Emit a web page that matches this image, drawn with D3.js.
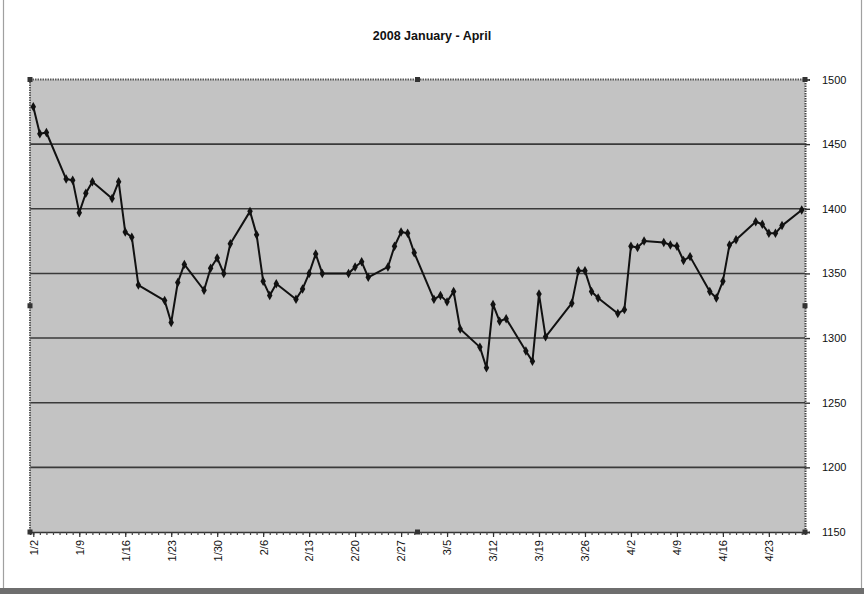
<!DOCTYPE html>
<html>
<head>
<meta charset="utf-8">
<script src="https://cdn.jsdelivr.net/npm/d3@7"></script>
<style>
  html, body { margin: 0; padding: 0; background: #ffffff; }
  svg { display: block; }
  text { font-family: "Liberation Sans", Arial, sans-serif; }
</style>
</head>
<body>
<div id="chart"></div>
<script>
// ---------- data ----------
const dates = [
  "1/2","1/3","1/4","1/7","1/8","1/9","1/10","1/11","1/14","1/15","1/16","1/17","1/18",
  "1/22","1/23","1/24","1/25","1/28","1/29","1/30","1/31","2/1",
  "2/4","2/5","2/6","2/7","2/8","2/11","2/12","2/13","2/14","2/15",
  "2/19","2/20","2/21","2/22","2/25","2/26","2/27","2/28","2/29",
  "3/3","3/4","3/5","3/6","3/7","3/10","3/11","3/12","3/13","3/14",
  "3/17","3/18","3/19","3/20","3/24","3/25","3/26","3/27","3/28",
  "3/31","4/1","4/2","4/3","4/4","4/7","4/8","4/9","4/10","4/11",
  "4/14","4/15","4/16","4/17","4/18","4/21","4/22","4/23","4/24","4/25","4/28"
];
const values = [
  1479,1458,1459,1423,1422,1397,1412,1421,1408,1421,1382,1378,1341,
  1329,1312,1343,1357,1337,1354,1362,1350,1373,
  1398,1380,1344,1333,1342,1330,1338,1350,1365,1350,
  1350,1355,1359,1347,1355,1371,1382,1381,1366,
  1330,1333,1328,1336,1307,1293,1277,1326,1313,1315,
  1290,1282,1334,1301,1327,1352,1352,1336,1331,
  1319,1322,1371,1370,1375,1374,1372,1371,1360,1363,
  1336,1331,1344,1372,1376,1390,1388,1381,1381,1387,1399
];
const xTickLabels = ["1/2","1/9","1/16","1/23","1/30","2/6","2/13","2/20","2/27","3/5","3/12","3/19","3/26","4/2","4/9","4/16","4/23"];
const yTicks = [1150,1200,1250,1300,1350,1400,1450,1500];
const title = "2008 January - April";
const year = 2008;

// ---------- helpers ----------
const parse = s => { const [m, d] = s.split("/").map(Number); return new Date(Date.UTC(year, m - 1, d)); };
const data = dates.map((d, i) => ({ date: parse(d), value: values[i] }));

const W = 864, H = 594;
const plot = { left: 30, right: 805, top: 79.5, bottom: 532 };

const svg = d3.select("#chart").append("svg").attr("width", W).attr("height", H);

// outer frame
svg.append("rect").attr("x", 0).attr("y", 0).attr("width", W).attr("height", H).attr("fill", "#ffffff");
svg.append("line").attr("x1", 3.5).attr("x2", 3.5).attr("y1", 0).attr("y2", 589).attr("stroke", "#a0a0a0").attr("stroke-width", 1.2);
svg.append("line").attr("x1", 861.5).attr("x2", 861.5).attr("y1", 0).attr("y2", 589).attr("stroke", "#a0a0a0").attr("stroke-width", 1.2);
svg.append("rect").attr("x", 0).attr("y", 588).attr("width", W).attr("height", 6).attr("fill", "#6e6e6e");

// scales
const first = data[0].date, last = data[data.length - 1].date;
const half = 12 * 3600 * 1000;
const x = d3.scaleUtc()
  .domain([new Date(first.getTime() - half), new Date(last.getTime() + half)])
  .range([plot.left, plot.right]);
const y = d3.scaleLinear().domain([1150, 1500]).range([plot.bottom, plot.top]);

// plot background
svg.append("rect")
  .attr("x", plot.left).attr("y", plot.top)
  .attr("width", plot.right - plot.left).attr("height", plot.bottom - plot.top)
  .attr("fill", "#c3c3c3");

// gridlines
svg.append("g").selectAll("line")
  .data(yTicks.filter(v => v > 1150 && v < 1500))
  .join("line")
  .attr("x1", plot.left).attr("x2", plot.right)
  .attr("y1", d => y(d)).attr("y2", d => y(d))
  .attr("stroke", "#3a3a3a").attr("stroke-width", 1.6);

// dotted top and left borders
svg.append("line").attr("x1", plot.left).attr("x2", plot.right).attr("y1", plot.top).attr("y2", plot.top)
  .attr("stroke", "#5a5a5a").attr("stroke-width", 2).attr("stroke-dasharray", "1.5,1");
svg.append("line").attr("x1", plot.left).attr("x2", plot.left).attr("y1", plot.top).attr("y2", plot.bottom)
  .attr("stroke", "#5a5a5a").attr("stroke-width", 2).attr("stroke-dasharray", "1.5,1");

// bottom axis (daily minor ticks, weekly labels)
const allDays = d3.utcDay.range(first, d3.utcDay.offset(last, 1));
const xAxisMinor = d3.axisBottom(x).tickValues(allDays).tickSize(3).tickFormat("");
const gxMinor = svg.append("g").attr("transform", `translate(0,${plot.bottom})`).call(xAxisMinor);
gxMinor.select(".domain").attr("stroke", "#333").attr("stroke-width", 1.5);
gxMinor.selectAll(".tick line").attr("stroke", "#444").attr("stroke-width", 1.2);

const xTickDates = xTickLabels.map(parse);
const xAxis = d3.axisBottom(x).tickValues(xTickDates).tickSize(5)
  .tickFormat((d, i) => xTickLabels[i]);
const gx = svg.append("g").attr("transform", `translate(0,${plot.bottom})`).call(xAxis);
gx.select(".domain").remove();
gx.selectAll(".tick line").attr("stroke", "#333").attr("stroke-width", 1.2);
gx.selectAll(".tick text")
  .attr("transform", "rotate(-90)")
  .attr("text-anchor", "end")
  .attr("x", -8).attr("y", 0).attr("dy", "0.35em")
  .attr("font-size", "11px").attr("fill", "#111");

// right axis
const yAxis = d3.axisRight(y).tickValues(yTicks).tickSize(5).tickFormat(d3.format("d"));
const gy = svg.append("g").attr("transform", `translate(${plot.right},0)`).call(yAxis);
gy.select(".domain").attr("stroke", "#444").attr("stroke-width", 2).attr("stroke-dasharray", "1.5,1");
gy.selectAll(".tick line").attr("stroke", "#333").attr("stroke-width", 1.4);
gy.selectAll(".tick text").attr("x", 17).attr("font-size", "11px").attr("fill", "#111");

// selection handles
const hx = [plot.left, (plot.left + plot.right) / 2, plot.right];
const hy = [plot.top, (plot.top + plot.bottom) / 2, plot.bottom];
const handles = [];
hx.forEach((a, i) => hy.forEach((b, j) => { if (!(i === 1 && j === 1)) handles.push([a, b]); }));
svg.append("g").selectAll("rect").data(handles).join("rect")
  .attr("x", d => d[0] - 2.5).attr("y", d => d[1] - 2.5)
  .attr("width", 5).attr("height", 5)
  .attr("fill", "#333");

// line
const line = d3.line().x(d => x(d.date)).y(d => y(d.value));
svg.append("path").datum(data)
  .attr("d", line).attr("fill", "none")
  .attr("stroke", "#111").attr("stroke-width", 2).attr("stroke-linejoin", "round");

// diamond markers
const diamond = d3.symbol().type(d3.symbolDiamond).size(26);
svg.append("g").selectAll("path").data(data).join("path")
  .attr("d", diamond)
  .attr("transform", d => `translate(${x(d.date)},${y(d.value)})`)
  .attr("fill", "#111");

// title
svg.append("text")
  .attr("x", 432).attr("y", 40)
  .attr("text-anchor", "middle")
  .attr("font-size", "12.5px").attr("font-weight", "bold").attr("fill", "#111")
  .text(title);
</script>
</body>
</html>
